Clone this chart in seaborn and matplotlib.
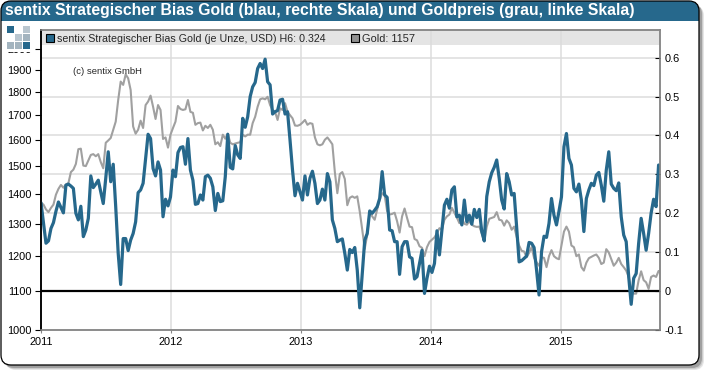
import pandas as pd
import seaborn as sns
import matplotlib.pyplot as plt
from matplotlib.patches import FancyBboxPatch, Rectangle

# Wochenwerte ab 2011-01-01
bias_2011 = [.227, .175, .123, .129, .161, .176, .205, .229, .215, .201, .272, .275, .270,
             .264, .200, .183, .218, .140, .157, .187, .296, .266, .275, .285, .255, .225,
             .290, .358, .281, .326, .217, .097, .017, .135, .135, .104, .131, .148, .178,
             .253, .260, .277, .340, .403, .392, .315, .296, .332, .311, .191, .236, .219]
bias_2012 = [.242, .311, .294, .356, .369, .371, .326, .392, .311, .285, .223, .225, .247,
             .234, .294, .298, .290, .268, .207, .251, .230, .232, .294, .403, .318, .314,
             .374, .350, .341, .444, .421, .448, .500, .525, .536, .572, .585, .572, .596,
             .538, .530, .455, .461, .464, .491, .493, .455, .461, .388, .311, .245, .277]
bias_2013 = [.255, .234, .296, .247, .290, .308, .277, .225, .234, .262, .234, .302, .281,
             .183, .161, .127, .131, .134, .097, .054, .107, .099, .112, .054, -.043, .045,
             .131, .148, .206, .200, .208, .217, .238, .307, .247, .241, .157, .155, .127,
             .127, .043, .114, .127, .127, .088, .084, .031, .037, .071, .105, -.006, .033]
bias_2014 = [.064, .048, .071, .155, .093, .157, .221, .236, .213, .260, .268, .191, .195,
             .170, .234, .178, .195, .172, .210, .189, .210, .153, .129, .243, .281, .304,
             .318, .337, .290, .234, .211, .302, .281, .247, .251, .165, .075, .078, .084,
             .090, .125, .123, .112, .054, -.010, .101, .141, .138, .174, .238, .195, .170]
bias_2015 = [.205, .242, .371, .405, .341, .324, .264, .255, .275, .234, .153, .238, .260,
             .277, .271, .298, .305, .272, .231, .311, .358, .275, .264, .258, .278, .191,
             .144, .127, .037, -.034, .033, .045, .123, .187, .148, .105, .148, .200, .236,
             .217, .324]

gold_2011 = [1369, 1363, 1347, 1338, 1352, 1363, 1397, 1417, 1431, 1421, 1433, 1437, 1477,
             1486, 1507, 1563, 1565, 1501, 1499, 1520, 1541, 1544, 1536, 1544, 1514, 1491,
             1588, 1597, 1607, 1640, 1673, 1765, 1847, 1832, 1880, 1862, 1809, 1653, 1624,
             1640, 1677, 1647, 1743, 1758, 1784, 1736, 1684, 1743, 1722, 1603, 1609, 1569]
gold_2012 = [1620, 1647, 1673, 1739, 1726, 1722, 1725, 1765, 1714, 1710, 1660, 1667, 1669,
             1637, 1656, 1647, 1660, 1640, 1582, 1590, 1575, 1620, 1604, 1624, 1588, 1582,
             1585, 1588, 1590, 1620, 1613, 1620, 1620, 1667, 1693, 1736, 1768, 1772, 1768,
             1779, 1743, 1722, 1714, 1680, 1729, 1722, 1751, 1714, 1700, 1687, 1657, 1656]
gold_2013 = [1660, 1669, 1680, 1660, 1667, 1664, 1609, 1582, 1578, 1582, 1600, 1609, 1596,
             1582, 1477, 1402, 1470, 1477, 1452, 1361, 1386, 1391, 1386, 1391, 1340, 1281,
             1222, 1265, 1341, 1324, 1313, 1347, 1380, 1402, 1395, 1341, 1330, 1332, 1336,
             1308, 1272, 1324, 1350, 1319, 1291, 1289, 1252, 1248, 1230, 1225, 1200, 1227]
gold_2014 = [1243, 1250, 1257, 1270, 1286, 1281, 1313, 1324, 1330, 1352, 1336, 1320, 1302,
             1319, 1300, 1297, 1308, 1297, 1292, 1290, 1291, 1270, 1245, 1291, 1316, 1319,
             1322, 1338, 1313, 1311, 1294, 1311, 1302, 1281, 1291, 1259, 1232, 1216, 1214,
             1197, 1210, 1227, 1195, 1182, 1172, 1197, 1195, 1168, 1200, 1218, 1200, 1194]
gold_2015 = [1191, 1232, 1275, 1291, 1275, 1232, 1227, 1200, 1205, 1168, 1158, 1181, 1194,
             1198, 1202, 1205, 1195, 1177, 1181, 1221, 1211, 1191, 1172, 1181, 1195, 1177,
             1168, 1158, 1140, 1103, 1094, 1094, 1131, 1156, 1131, 1125, 1107, 1140, 1144,
             1140, 1157]

bias = bias_2011 + bias_2012 + bias_2013 + bias_2014 + bias_2015
gold = gold_2011 + gold_2012 + gold_2013 + gold_2014 + gold_2015
dates = pd.date_range('2011-01-01', periods=len(bias), freq='7D')

gold_ticks = [1000, 1100, 1200, 1300, 1400, 1500, 1600, 1700, 1800, 1900, 2000]
bias_ticks = [-0.1, 0, 0.1, 0.2, 0.3, 0.4, 0.5, 0.6]
bias_labels = ['-0.1', '0', '0.1', '0.2', '0.3', '0.4', '0.5', '0.6']
years = pd.to_datetime(['2011-01-01', '2012-01-01', '2013-01-01', '2014-01-01', '2015-01-01'])
year_labels = ['2011', '2012', '2013', '2014', '2015']

BLUE = '#26688c'
GREY = '#a0a0a0'
GRID = '#dcdcdc'
TITLE = 'sentix Strategischer Bias Gold (blau, rechte Skala) und Goldpreis (grau, linke Skala)'

sns.set_style('white')
plt.rcParams['font.family'] = ['Liberation Sans', 'DejaVu Sans']

W, H = 710, 376
fig = plt.figure(figsize=(W / 100, H / 100), dpi=100)
rect = [41 / W, 1 - 330 / H, 619 / W, 300 / H]
xlim = (pd.Timestamp('2011-01-01'), pd.Timestamp('2015-10-07'))

# Rahmen in Pixelkoordinaten
card_ax = fig.add_axes([0, 0, 1, 1], zorder=0)
card_ax.set_xlim(0, W)
card_ax.set_ylim(H, 0)
card_ax.axis('off')
for off, col in [(5, '#e6e6e6'), (4, '#cccccc'), (3, '#a0a0a0')]:
    card_ax.add_patch(FancyBboxPatch((1 + off, 1 + off), 698, 364, boxstyle='round,pad=0,rounding_size=10',
                                     fc=col, ec='none'))
card = FancyBboxPatch((1, 1), 698, 364, boxstyle='round,pad=0,rounding_size=10', fc='white', ec='none')
card_ax.add_patch(card)
bar = Rectangle((1, 1), 698, 20, fc=BLUE, ec='none')
card_ax.add_patch(bar)
bar.set_clip_path(card)
card_ax.add_patch(FancyBboxPatch((1, 1), 698, 364, boxstyle='round,pad=0,rounding_size=10',
                                 fc='none', ec='black', lw=0.9))
card_ax.text(5, 11, TITLE, color='white', fontsize=11.3, fontweight='bold', va='center', ha='left')

# Raster und Legendenband liegen unter beiden Linien
grid_ax = fig.add_axes(rect, zorder=1)
grid_ax.patch.set_alpha(0)
grid_ax.set_xlim(xlim)
grid_ax.set_ylim(-0.1, 0.671)
grid_ax.axis('off')
for v in bias_ticks[2:]:
    grid_ax.axhline(v, color=GRID, lw=1.1)
for y in years[1:]:
    grid_ax.axvline(y, color=GRID, lw=1.1)
grid_ax.axhspan(0.632, 0.671, color='#dedede', alpha=0.8, lw=0)

ax = fig.add_axes(rect, zorder=2)
ax.patch.set_alpha(0)
sns.lineplot(x=dates, y=gold, ax=ax, color=GREY, linewidth=1.5)
ax.set_yscale('log')
ax.set_ylim(1000, 2098)
ax.set_xlim(xlim)
ax.set_yticks(gold_ticks)
ax.set_yticklabels([str(t) for t in gold_ticks], fontsize=7.9, color='black')
ax.minorticks_off()
ax.set_xticks(years)
ax.set_xticklabels(year_labels, fontsize=7.9, color='black')
ax.tick_params(axis='y', left=True, direction='out', length=4.5, width=0.8, color='black', pad=2)
ax.tick_params(axis='x', bottom=True, direction='out', length=2.5, width=0.8, color='#888888', pad=2.5)
ax.set_xlabel('')
ax.set_ylabel('')

ax2 = ax.twinx()
ax2.set_zorder(3)
ax2.patch.set_alpha(0)
ax2.axhline(0, color='black', lw=1.6, zorder=1)
sns.lineplot(x=dates, y=bias, ax=ax2, color=BLUE, linewidth=2.3, zorder=2)
ax2.set_ylim(-0.1, 0.671)
ax2.set_xlim(xlim)
ax2.set_yticks(bias_ticks)
ax2.set_yticklabels(bias_labels, fontsize=7.9, color='black')
ax2.tick_params(axis='y', right=True, direction='in', length=3.5, width=0.8, color='black', pad=3)
ax2.set_ylabel('')

for a in (ax, ax2):
    for side, spine in a.spines.items():
        spine.set_visible(True)
        spine.set_color('black' if side == 'left' else '#888888')
        spine.set_linewidth(1.1)

# Logo, Legendentexte und Copyright in Pixelkoordinaten obenauf
top = fig.add_axes([0, 0, 1, 1], zorder=4)
top.set_xlim(0, W)
top.set_ylim(H, 0)
top.axis('off')
top.add_patch(Rectangle((5, 24), 28, 28, fc='white', ec='none'))
logo_cells = [(7, 26, BLUE), (23, 26, '#b9c6cf'), (15, 34, '#b9c6cf'), (23, 34, '#a3b4bf'),
              (7, 42, '#a3b4bf'), (15, 42, '#a3b4bf'), (23, 42, BLUE)]
for lx, ly, col in logo_cells:
    top.add_patch(Rectangle((lx, ly), 7, 7, fc=col, ec='none'))
top.add_patch(Rectangle((45.5, 34), 8, 8, fc=BLUE, ec='black', lw=0.8))
top.add_patch(Rectangle((350.5, 34), 8, 8, fc='#909090', ec='black', lw=0.8))
top.text(57, 38.5, 'sentix Strategischer Bias Gold (je Unze, USD) H6: 0.324', fontsize=7.7, va='center')
top.text(362, 38.5, 'Gold: 1157', fontsize=7.9, va='center')
top.text(73, 71, '(c) sentix GmbH', fontsize=6.8, va='center')

plt.savefig('out.png', dpi=100)
